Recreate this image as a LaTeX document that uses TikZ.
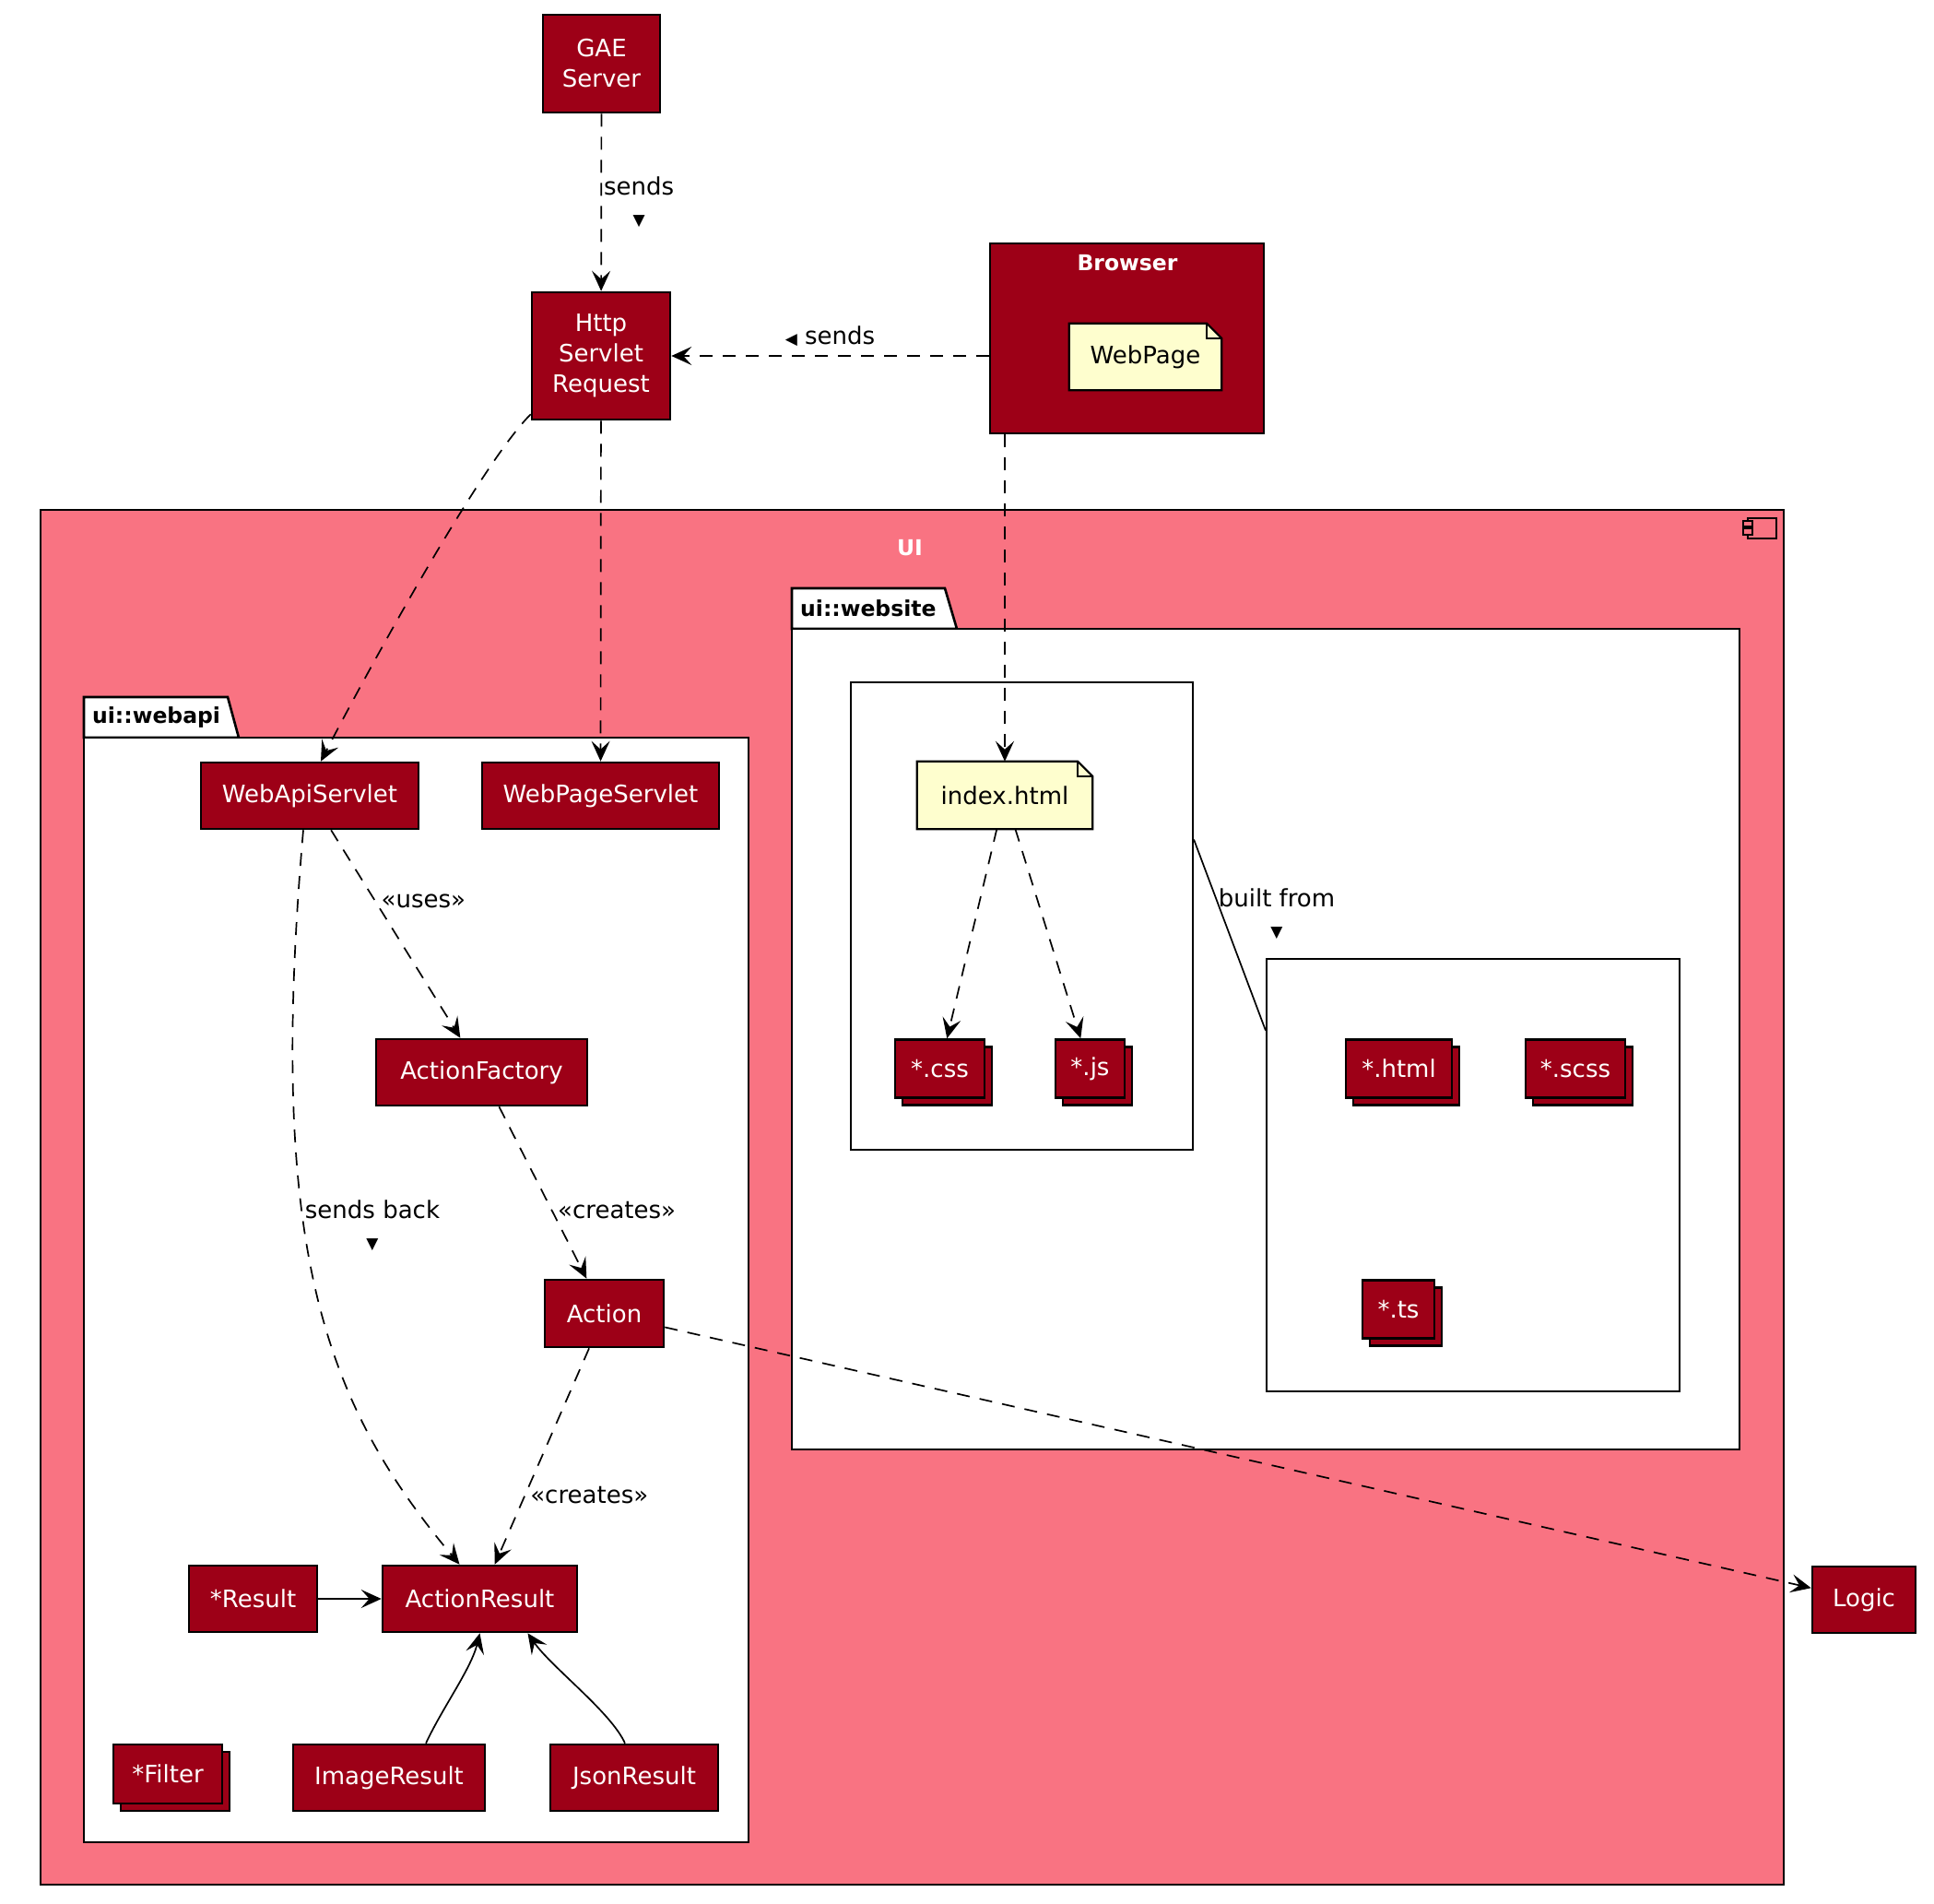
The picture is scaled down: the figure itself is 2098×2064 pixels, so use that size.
\documentclass[tikz,border=0pt]{standalone}
\usepackage{fontspec}
\setmainfont{DejaVu Sans}
\usetikzlibrary{arrows.meta,shadows}

\definecolor{umlred}{HTML}{9D0017}
\definecolor{uipink}{HTML}{F97382}
\definecolor{noteyel}{HTML}{FEFECE}

\newcommand\umlfont{\fontsize{26}{33}\selectfont}
\newcommand\ttlfont{\fontsize{23.5}{28}\selectfont\bfseries}
\newcommand\markfont{\fontsize{17}{17}\selectfont}
% 折角便签
\newcommand\notefold[2]{%
  \fill[#2] ([xshift=-16pt]#1.north east) -- (#1.north east)
    -- ([yshift=-16pt]#1.north east) -- cycle;
  \draw[line width=2.2pt] (#1.north west) -- ([xshift=-16pt]#1.north east)
    -- ([yshift=-16pt]#1.north east) -- (#1.south east) -- (#1.south west) -- cycle;
  \draw[line width=1.6pt] ([xshift=-16pt]#1.north east) |- ([yshift=-16pt]#1.north east);}

\begin{document}
\begin{tikzpicture}[x=1pt, y=-1pt,
  comp/.style={draw, line width=2.6pt, fill=umlred, text=white, font=\umlfont,
    inner sep=0pt, align=center, minimum height=72pt},
  stack/.style={comp, minimum height=63pt,
    copy shadow={shadow xshift=8pt, shadow yshift=-8pt, fill=umlred, draw=black, line width=2.6pt}},
  notebox/.style={fill=noteyel, font=\umlfont, inner sep=0pt, minimum height=72pt},
  frame/.style={draw, line width=2.2pt, fill=white, inner sep=0pt},
  pkg/.style={draw, line width=2.6pt, fill=white},
  dep/.style={line width=1.7pt, dash pattern=on 14pt off 11pt,
    -{Stealth[length=22pt, width=20pt, inset=9pt]}},
  gen/.style={line width=1.7pt, -{Stealth[length=22pt, width=20pt, inset=9pt]}},
  lbl/.style={font=\umlfont, align=center, inner sep=0pt},
  ttl/.style={font=\ttlfont, inner sep=0pt}]
  \useasboundingbox (0,0) rectangle (2098,2064);
  % 外部节点
  \node[comp, minimum width=127pt, minimum height=106pt] (gae) at (652.5,69) {GAE\\Server};
  \node[comp, minimum width=150pt, minimum height=138pt] (http) at (652,386) {Http\\Servlet\\Request};
  \node[comp, minimum width=297pt, minimum height=206pt] (brw) at (1222.5,367) {};
  \node[ttl, text=white] (brwt) at (1223,285) {Browser};
  \node[notebox, minimum width=165pt] (wpg) at (1242.5,387) {WebPage};
  \notefold{wpg}{umlred}
  \node[comp, minimum width=112pt] (logic) at (2022,1735) {Logic};
  % UI 组件
  \node[draw, line width=2.6pt, fill=uipink, minimum width=1891pt, minimum height=1491pt] (ui) at (989.5,1298.5) {};
  \node[ttl, text=white] (uit) at (987,594) {UI};
  \draw[line width=2pt, fill=uipink] (1896,562) rectangle (1927,584);
  \draw[line width=2pt, fill=uipink] (1891,565) rectangle (1901,571) (1891,573) rectangle (1901,580);
  % ui::website 包
  \draw[pkg] (859,682) -- (859,638) -- (1025,638) -- (1038,682) -- cycle;
  \draw[pkg] (859,682) rectangle (1887,1572);
  \node[ttl, anchor=west] (webt) at (868,660) {ui::website};
  \node[frame, minimum width=371pt, minimum height=507pt] (srca) at (1108.5,993.5) {};
  \node[frame, minimum width=448pt, minimum height=469pt] (srcb) at (1598,1274.5) {};
  \node[notebox, minimum width=190pt, minimum height=73pt] (idx) at (1090,862.5) {index.html};
  \notefold{idx}{white}
  \node[stack, minimum width=97pt] (css) at (1019.5,1159) {*.css};
  \node[stack, minimum width=75pt] (js) at (1182.5,1159) {*.js};
  \node[stack, minimum width=115pt] (html) at (1517.5,1159) {*.html};
  \node[stack, minimum width=108pt] (scss) at (1709,1159) {*.scss};
  \node[stack, minimum width=78pt] (ts) at (1517,1420) {*.ts};
  % ui::webapi 包
  \draw[pkg] (91,800) -- (91,756) -- (247,756) -- (259,800) -- cycle;
  \draw[pkg] (91,800) rectangle (812,1998);
  \node[ttl, anchor=west] (apit) at (100,778) {ui::webapi};
  \node[comp, minimum width=236pt] (wapi) at (336,863) {WebApiServlet};
  \node[comp, minimum width=257pt] (wps) at (651.5,863) {WebPageServlet};
  \node[comp, minimum width=229pt] (afac) at (522.5,1163) {ActionFactory};
  \node[comp, minimum width=129pt, minimum height=73pt] (act) at (655.5,1424.5) {Action};
  \node[comp, minimum width=211pt] (ares) at (520.5,1734) {ActionResult};
  \node[comp, minimum width=139pt] (rstar) at (274.5,1734) {*Result};
  \node[stack, minimum width=118pt, minimum height=64pt] (filt) at (182,1924) {*Filter};
  \node[comp, minimum width=208pt] (imgr) at (422,1928) {ImageResult};
  \node[comp, minimum width=182pt] (json) at (688,1928) {JsonResult};
  % 连线
  \draw[dep] (gae) -- (http) node[lbl, midway, right=2pt] (l1) {sends\\{\markfont ▼}};
  \draw[dep] (http.east -| brw.west) -- (http.east)
    node[lbl, midway, above=10pt] (l2) {{\markfont ◀} sends};
  \draw[dep] (brw.south -| idx.north) -- (idx.north);
  \draw[dep] ([yshift=7pt]http.south west) .. controls (520,505) and (395,735) .. ([xshift=12pt]wapi.north);
  \draw[dep] (http) -- (wps);
  \draw[dep] (idx) -- (css);
  \draw[dep] (idx) -- (js);
  \draw[line width=1.7pt] ([yshift=83pt]srca.east) -- ([yshift=157pt]srcb.west)
    node[lbl, midway, xshift=51pt, yshift=23pt] (l7) {built from\\{\markfont ▼}};
  \draw[dep] (wapi) -- (afac) node[lbl, pos=0.34, right=6pt] (l3) {«uses»};
  \draw[dep] ([xshift=-7pt]wapi.south) .. controls (290,1350) and (350,1520) .. ([xshift=-22pt]ares.north);
  \node[lbl] (l4) at (404,1329) {sends back\\{\markfont ▼}};
  \draw[dep] (afac) -- (act) node[lbl, pos=0.6, right=6pt] (l5) {«creates»};
  \draw[dep] (act) -- (ares) node[lbl, pos=0.68, right=5pt] (l6) {«creates»};
  \draw[dep] (act) -- (logic);
  \draw[gen] (rstar) -- (ares);
  \draw[gen] ([xshift=40pt]imgr.north) .. controls (480,1852) and (511,1810) .. (ares.south);
  \draw[gen] ([xshift=-10pt]json.north) .. controls (663,1857) and (598,1808) .. ([xshift=52pt]ares.south);
\end{tikzpicture}
\end{document}
